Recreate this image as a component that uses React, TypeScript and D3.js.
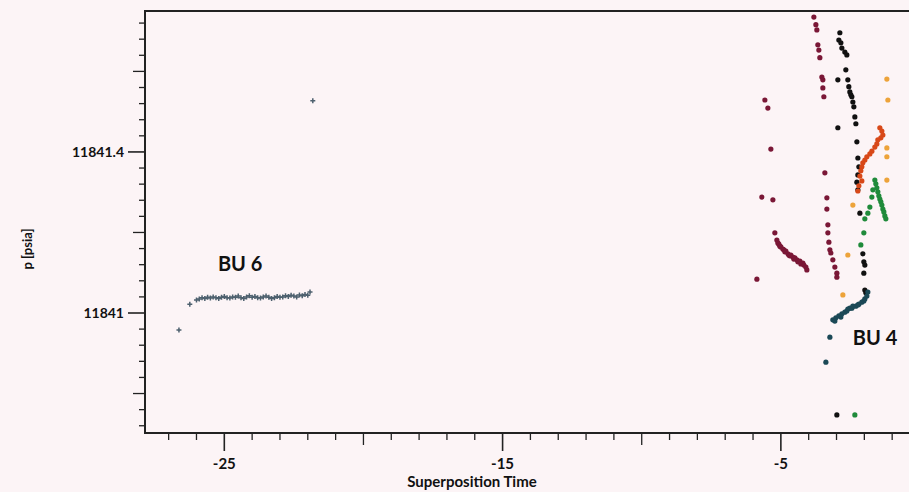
import React from "react";
import * as d3 from "d3";

// ---- data (Superposition Time, p [psia]) ----
const bu6X = [-26.63, -26.24, -26.0, -25.9, -25.8, -25.7, -25.6, -25.5, -25.4, -25.3, -25.2, -25.1, -25.0, -24.9, -24.8, -24.7, -24.6, -24.5, -24.4, -24.3, -24.2, -24.1, -24.0, -23.9, -23.8, -23.7, -23.6, -23.5, -23.4, -23.3, -23.2, -23.1, -23.0, -22.9, -22.8, -22.7, -22.6, -22.5, -22.4, -22.3, -22.2, -22.1, -22.0, -21.92, -21.82];
const bu6Y = [11840.958, 11841.022, 11841.032, 11841.035, 11841.038, 11841.036, 11841.039, 11841.037, 11841.040, 11841.038, 11841.036, 11841.039, 11841.041, 11841.038, 11841.037, 11841.040, 11841.039, 11841.042, 11841.038, 11841.036, 11841.040, 11841.043, 11841.039, 11841.041, 11841.038, 11841.037, 11841.040, 11841.042, 11841.039, 11841.036, 11841.038, 11841.041, 11841.039, 11841.040, 11841.043, 11841.041, 11841.044, 11841.042, 11841.040, 11841.045, 11841.043, 11841.046, 11841.044, 11841.052, 11841.527];

const maroonX = [-5.575, -5.467, -5.359, -5.683, -5.287, -5.216, -5.144, -5.108, -5.072, -5.036, -5.0, -4.928, -4.892, -4.856, -4.82, -4.748, -4.713, -4.677, -4.641, -4.569, -4.533, -4.497, -4.425, -4.389, -4.317, -4.281, -4.209, -4.174, -4.102, -4.066, -5.862,
  -3.814, -3.742, -3.707, -3.671, -3.635, -3.599, -3.527, -3.491, -3.491, -3.455, -3.419, -3.347, -3.347, -3.311, -3.311, -3.275, -3.239, -3.204, -3.132, -3.06, -2.988, -2.988];
const maroonY = [11841.529, 11841.509, 11841.407, 11841.288, 11841.281, 11841.199, 11841.181, 11841.174, 11841.171, 11841.166, 11841.164, 11841.159, 11841.157, 11841.152, 11841.154, 11841.147, 11841.144, 11841.142, 11841.144, 11841.139, 11841.134, 11841.137, 11841.132, 11841.127, 11841.129, 11841.122, 11841.124, 11841.119, 11841.114, 11841.107, 11841.084,
  11841.735, 11841.716, 11841.703, 11841.666, 11841.653, 11841.634, 11841.586, 11841.579, 11841.559, 11841.537, 11841.348, 11841.286, 11841.258, 11841.219, 11841.199, 11841.176, 11841.157, 11841.149, 11841.132, 11841.114, 11841.099, 11841.089];

const blackX = [-2.88, -2.916, -2.844, -2.808, -2.701, -2.629, -2.665, -2.952, -2.593, -2.557, -2.521, -2.485, -2.449, -2.413, -2.377, -2.341, -2.305, -2.952, -2.269, -2.233, -2.197, -2.233, -2.269, -2.233, -2.161, -2.054, -2.018, -1.982, -2.018, -1.982, -1.946, -2.988];
const blackY = [11841.696, 11841.678, 11841.671, 11841.658, 11841.648, 11841.641, 11841.604, 11841.579, 11841.579, 11841.562, 11841.549, 11841.542, 11841.537, 11841.524, 11841.512, 11841.487, 11841.47, 11841.46, 11841.425, 11841.385, 11841.363, 11841.343, 11841.325, 11841.306, 11841.248, 11841.147, 11841.127, 11841.119, 11841.099, 11841.057, 11841.05, 11840.747];

const tealX = [-3.383, -3.239, -3.132, -3.06, -3.024, -2.916, -2.844, -2.808, -2.701, -2.629, -2.593, -2.521, -2.449, -2.413, -2.305, -2.233, -2.197, -2.09, -2.018, -1.982, -1.91, -1.874];
const tealY = [11840.878, 11840.94, 11840.983, 11840.98, 11840.988, 11840.993, 11840.99, 11840.998, 11841.002, 11841.005, 11841.01, 11841.012, 11841.012, 11841.017, 11841.017, 11841.02, 11841.022, 11841.027, 11841.03, 11841.035, 11841.042, 11841.052];

const greenX = [-1.623, -1.587, -1.551, -1.515, -1.479, -1.443, -1.407, -1.371, -1.335, -1.299, -1.263, -1.227, -1.694, -1.73, -1.802, -1.874, -1.982, -2.018, -2.126, -2.341];
const greenY = [11841.33, 11841.321, 11841.311, 11841.301, 11841.291, 11841.283, 11841.276, 11841.268, 11841.258, 11841.251, 11841.241, 11841.234, 11841.306, 11841.288, 11841.263, 11841.248, 11841.234, 11841.199, 11841.169, 11840.747];

const redX = [-1.443, -1.371, -1.335, -1.407, -1.515, -1.551, -1.623, -1.73, -1.802, -1.91, -1.982, -2.054, -2.09, -2.126, -2.161, -2.09, -2.197, -2.233];
const redY = [11841.46, 11841.452, 11841.442, 11841.435, 11841.43, 11841.42, 11841.412, 11841.402, 11841.395, 11841.388, 11841.38, 11841.373, 11841.363, 11841.353, 11841.34, 11841.328, 11841.316, 11841.303];

const orangeX = [-1.191, -1.155, -1.191, -1.191, -1.191, -2.413, -2.593, -2.772];
const orangeY = [11841.581, 11841.529, 11841.41, 11841.388, 11841.33, 11841.268, 11841.144, 11841.045];

const xLabelTicks = [-25, -15, -5];
const yLabelTicks = [11841, 11841.4];
const annotations = [
  { text: "BU 6", x: -25.23, y: 11841.104 },
  { text: "BU 4", x: -2.413, y: 11840.92 },
];

const W = 909;
const H = 492;
const L = 145, T = 11, B = 433, R = 920;
const FONT = "Lato, 'Open Sans', sans-serif";

export default function App() {
  const x = d3.scaleLinear().domain([-27.85, 0]).range([L, R]);
  const y = d3.scaleLinear().domain([11840.702, 11841.75]).range([B, T]);

  const xTicks = d3.range(-27, 1, 1);
  const yTicks = d3.range(0, 26).map((i) => +(11840.72 + i * 0.04).toFixed(2));

  const isMult = (v: number, m: number) => Math.abs(v / m - Math.round(v / m)) < 1e-6;

  const series = [
    { xs: maroonX, ys: maroonY, color: "#7a1736" },
    { xs: blackX, ys: blackY, color: "#111111" },
    { xs: tealX, ys: tealY, color: "#1b4856" },
    { xs: greenX, ys: greenY, color: "#1f8a3a" },
    { xs: redX, ys: redY, color: "#d84818" },
    { xs: orangeX, ys: orangeY, color: "#eda33a" },
  ];

  return (
    <svg
      width={W}
      height={H}
      style={{ position: "absolute", left: 0, top: 0, background: "#fcf4f6" }}
    >
      <rect x={0} y={0} width={W} height={H} fill="#fcf4f6" />
      <defs>
        <clipPath id="plot">
          <rect x={L} y={T} width={R - L} height={B - T} />
        </clipPath>
      </defs>

      {/* BU6 markers */}
      <g clipPath="url(#plot)">
        {bu6X.map((vx, i) => (
          <path
            key={"b" + i}
            d={`M${x(vx) - 2.5},${y(bu6Y[i])}h5M${x(vx)},${y(bu6Y[i]) - 2.5}v5`}
            stroke="#4d606e"
            strokeWidth={1.5}
            fill="none"
          />
        ))}
        {series.map((s, si) =>
          s.xs.map((vx, i) => (
            <circle
              key={si + "-" + i}
              cx={x(vx)}
              cy={y(s.ys[i])}
              r={2.6}
              fill={s.color}
            />
          ))
        )}
      </g>

      {/* axes frame */}
      <line x1={L} x2={W} y1={T} y2={T} stroke="#222" strokeWidth={2} />
      <line x1={L} x2={L} y1={T - 1} y2={B + 1} stroke="#222" strokeWidth={2} />
      <line x1={L - 1} x2={W} y1={B} y2={B} stroke="#222" strokeWidth={2} />

      {/* x ticks */}
      {xTicks.map((t) => {
        const major = xLabelTicks.includes(t);
        const med = !major && isMult(t, 5);
        const len = major ? 18 : med ? 12 : 7;
        return (
          <line
            key={"xt" + t}
            x1={x(t)}
            x2={x(t)}
            y1={B + 1}
            y2={B + len}
            stroke="#222"
            strokeWidth={major ? 1.6 : 1.3}
          />
        );
      })}
      {xLabelTicks.map((t) => (
        <text
          key={"xl" + t}
          x={x(t)}
          y={469}
          textAnchor="middle"
          fontFamily={FONT}
          fontWeight={700}
          fontSize={15}
          fill="#111"
        >
          {t}
        </text>
      ))}
      <text
        x={472}
        y={487}
        textAnchor="middle"
        fontFamily={FONT}
        fontWeight={700}
        fontSize={15}
        fill="#111"
      >
        Superposition Time
      </text>

      {/* y ticks */}
      {yTicks.map((t) => {
        const major = yLabelTicks.some((v) => Math.abs(v - t) < 1e-6);
        const med = !major && isMult(+(t - 11840).toFixed(2), 0.2);
        const len = major ? 17 : med ? 12 : 6;
        return (
          <line
            key={"yt" + t}
            x1={L - 1}
            x2={L - len}
            y1={y(t)}
            y2={y(t)}
            stroke="#222"
            strokeWidth={major ? 1.6 : 1.3}
          />
        );
      })}
      {yLabelTicks.map((t) => (
        <text
          key={"yl" + t}
          x={124}
          y={y(t) + 5}
          textAnchor="end"
          fontFamily={FONT}
          fontWeight={700}
          fontSize={14}
          fill="#111"
        >
          {t}
        </text>
      ))}
      <text
        transform={`translate(32,249) rotate(-90)`}
        textAnchor="middle"
        fontFamily={FONT}
        fontWeight={700}
        fontSize={13}
        fill="#111"
      >
        p [psia]
      </text>

      {/* annotations */}
      {annotations.map((a) => (
        <text
          key={a.text}
          x={x(a.x)}
          y={y(a.y)}
          textAnchor="start"
          fontFamily={FONT}
          fontWeight={700}
          fontSize={20}
          fill="#111"
        >
          {a.text}
        </text>
      ))}
    </svg>
  );
}
